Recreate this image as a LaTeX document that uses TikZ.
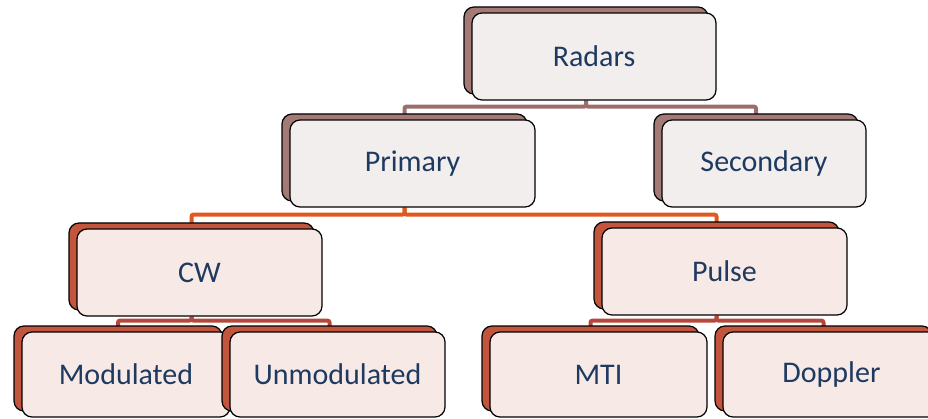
\documentclass[tikz,border=0pt]{standalone}
\usepackage{fontspec}
\setmainfont{Carlito}
\usetikzlibrary{shadows, backgrounds}

\definecolor{mauveback}{HTML}{A47A77}
\definecolor{rustback}{HTML}{C4553D}
\definecolor{greyfront}{HTML}{F2EEEE}
\definecolor{pinkfront}{HTML}{F7E9E6}
\definecolor{labelblue}{HTML}{1F3A60}
\definecolor{topline}{HTML}{9C6E6B}
\definecolor{midline}{HTML}{E0581F}
\definecolor{lowline}{HTML}{B5483A}

\begin{document}
\begin{tikzpicture}[x=1pt, y=-1pt,
    box/.style={draw=black, line width=1.2pt, rounded corners=10pt,
        minimum height=87pt, inner sep=0pt, text=labelblue,
        font=\fontsize{30}{33}\selectfont, anchor=center, align=center},
    upperbox/.style={box, fill=greyfront,
        copy shadow={shadow xshift=-8pt, shadow yshift=6pt, fill=mauveback, draw=black, line width=1.2pt}},
    lowerbox/.style={box, fill=pinkfront,
        copy shadow={shadow xshift=-8pt, shadow yshift=6pt, fill=rustback, draw=black, line width=1.2pt}},
    link/.style={line width=4pt, rounded corners=2pt}
    ]

    \useasboundingbox (0,0) rectangle (928,419);

    % Boxes, placed at their centres
    \node[upperbox, minimum width=244pt] (rad) at (594,56.5) {Radars};
    \node[upperbox, minimum width=245pt] (pri) at (412.5,163.5) {Primary};
    \node[upperbox, minimum width=204pt] (sec) at (764,163.5) {Secondary};
    \node[lowerbox, minimum width=245pt] (cw) at (199.5,272.5) {CW};
    \node[lowerbox, minimum width=245pt] (pul) at (724.5,271.5) {Pulse};

    % Bottom row
    \node[lowerbox, minimum width=208pt, minimum height=85pt] (mod) at (126,374.5) {Modulated};
    \node[lowerbox, minimum width=215pt, minimum height=85pt] (unm) at (337.5,374.5) {Unmodulated};
    \node[lowerbox, minimum width=217pt, minimum height=85pt] (mti) at (598.5,374.5) {MTI};
    \node[lowerbox, minimum width=217pt, minimum height=85pt] (dop) at (831.5,374.5) {Doppler};

    % Connectors, behind the boxes
    \begin{pgfonlayer}{background}
    \foreach \a/\b/\col/\dy in {rad/pri/topline/6, rad/sec/topline/6,
                                pri/cw/midline/7, pri/pul/midline/7,
                                cw/mod/lowline/4, cw/unm/lowline/4,
                                pul/mti/lowline/5, pul/dop/lowline/5}
    \draw[link, \col] ([xshift=-8pt]\a.south) -- ++(0,\dy) -| ([xshift=-8pt]\b.north);
    \end{pgfonlayer}

\end{tikzpicture}
\end{document}
